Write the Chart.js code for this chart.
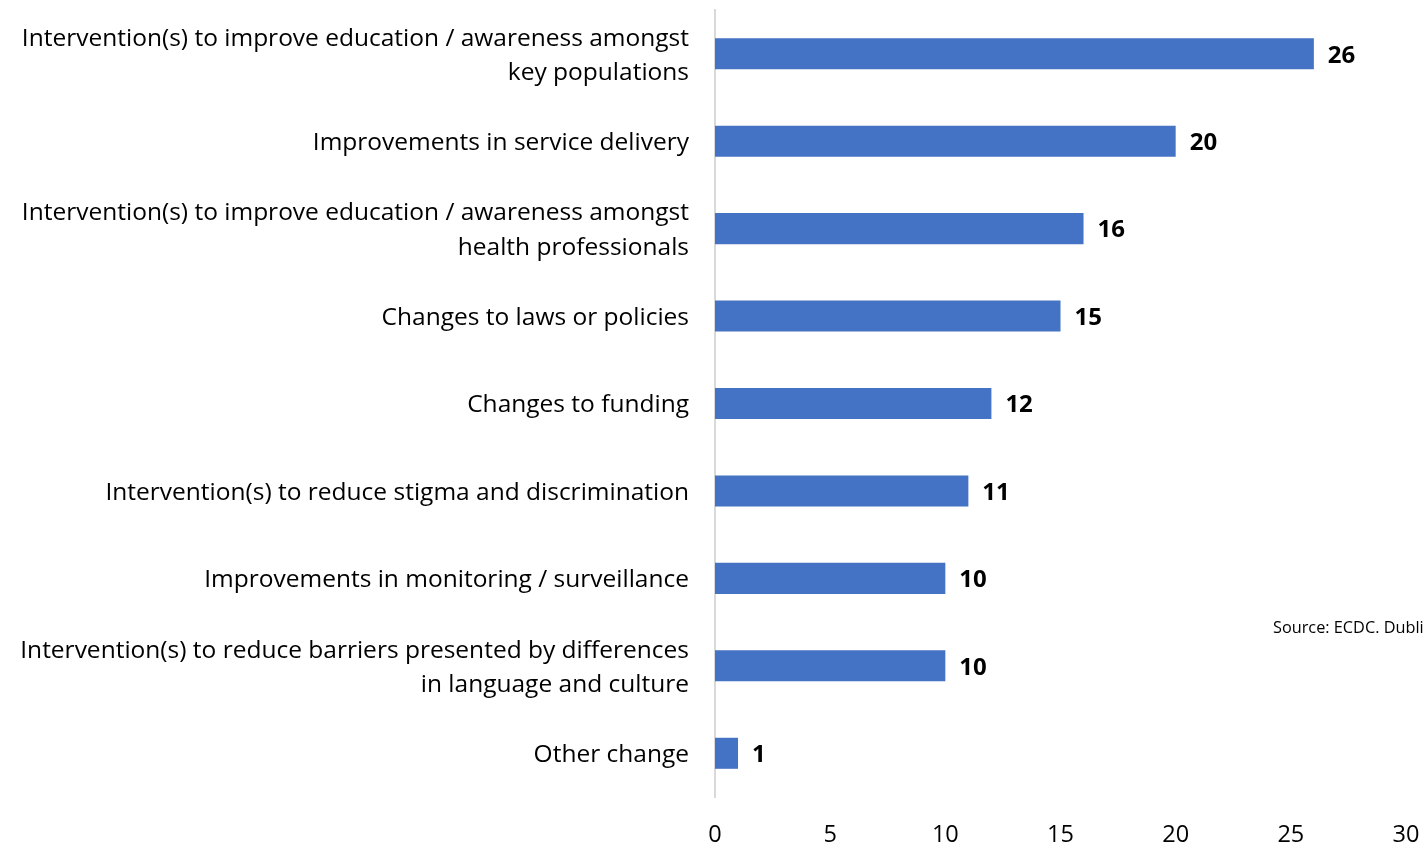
<!DOCTYPE html>
<html>
<head>
<meta charset="utf-8">
<script src="https://cdn.jsdelivr.net/npm/chart.js@4.4.1/dist/chart.umd.min.js"></script>
<style>
  html, body { margin: 0; padding: 0; background: #fff; overflow: hidden; }
  #wrap { width: 1425px; height: 847px; position: relative; }
</style>
</head>
<body>
<div id="wrap"><canvas id="changesChart"></canvas></div>
<script>
// Categories, top to bottom
const changeLabels = [
  ['Intervention(s) to improve education / awareness amongst', 'key populations'],
  'Improvements in service delivery',
  ['Intervention(s) to improve education / awareness amongst', 'health professionals'],
  'Changes to laws or policies',
  'Changes to funding',
  'Intervention(s) to reduce stigma and discrimination',
  'Improvements in monitoring / surveillance',
  ['Intervention(s) to reduce barriers presented by differences', 'in language and culture'],
  'Other change'
];
const changeCounts = [26, 20, 16, 15, 12, 11, 10, 10, 1];
const xTicks = [0, 5, 10, 15, 20, 25, 30];

const FONT = 'Open Sans';

// Bold value at the end of each bar
const valueLabels = {
  id: 'valueLabels',
  afterDatasetsDraw(chart) {
    const { ctx } = chart;
    const meta = chart.getDatasetMeta(0);
    ctx.save();
    ctx.font = `bold 24px "${FONT}"`;
    ctx.fillStyle = '#000';
    ctx.textAlign = 'left';
    ctx.textBaseline = 'middle';
    meta.data.forEach((bar, i) => {
      ctx.fillText(String(changeCounts[i]), bar.x + 14, bar.y + 2);
    });
    ctx.restore();
  }
};

// Source note, partly off the right edge
const sourceNote = {
  id: 'sourceNote',
  afterDraw(chart) {
    const { ctx } = chart;
    ctx.save();
    ctx.font = `16.3px "${FONT}"`;
    ctx.fillStyle = '#000';
    ctx.textAlign = 'left';
    ctx.textBaseline = 'middle';
    ctx.fillText('Source: ECDC. Dublin Declaration monitoring', 1273, 628);
    ctx.restore();
  }
};

new Chart(document.getElementById('changesChart'), {
  type: 'bar',
  data: {
    labels: changeLabels,
    datasets: [{
      data: changeCounts,
      backgroundColor: '#4472C4',
      barPercentage: 0.355,
      categoryPercentage: 1
    }]
  },
  options: {
    indexAxis: 'y',
    responsive: true,
    maintainAspectRatio: false,
    animation: false,
    layout: { padding: { top: 10, right: 19, bottom: 0, left: 0 } },
    scales: {
      x: {
        min: 0,
        max: 30,
        afterBuildTicks: (scale) => { scale.ticks = xTicks.map(v => ({ value: v })); },
        afterFit: (scale) => {
          scale.height = 50;
          scale.paddingLeft = 0; scale.paddingRight = 0;
          scale.paddingTop = 0; scale.paddingBottom = 0;
        },
        grid: { display: false, drawTicks: false },
        border: { display: false },
        ticks: {
          color: '#000',
          padding: 24,
          maxRotation: 0,
          font: { family: FONT, size: 23.5 }
        }
      },
      y: {
        afterFit: (scale) => { scale.width = 715; scale.paddingTop = 0; scale.paddingBottom = 0; },
        grid: { display: false, drawTicks: false },
        border: { display: true, color: '#d9d9d9', width: 2 },
        ticks: {
          color: '#000',
          padding: 26,
          labelOffset: 2,
          font: { family: FONT, size: 24.5, lineHeight: 1.4 }
        }
      }
    },
    plugins: {
      legend: { display: false },
      tooltip: { enabled: false }
    }
  },
  plugins: [valueLabels, sourceNote]
});
</script>
</body>
</html>
